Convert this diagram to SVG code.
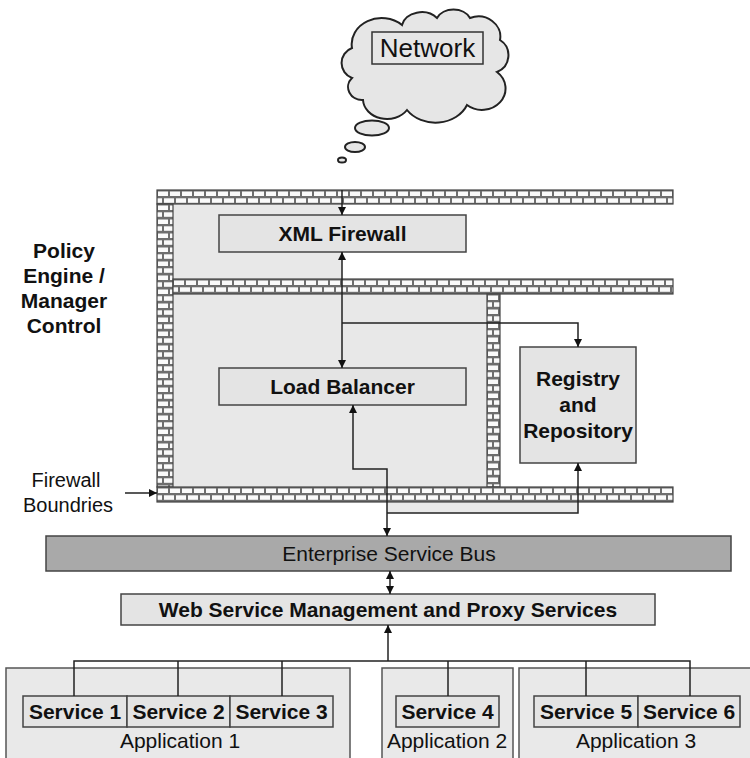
<svg xmlns="http://www.w3.org/2000/svg" width="750" height="758" viewBox="0 0 750 758">
<style>
text{font-family:"Liberation Sans",Arial,sans-serif;fill:#111;text-anchor:middle}
.b{font-weight:bold;font-size:21px}
.r{font-size:21px}
.box{fill:#e4e4e4;stroke:#444;stroke-width:1.5}
.app{fill:#e9e9e9;stroke:#555;stroke-width:1.5}
.wall{fill:url(#brick);stroke:#444;stroke-width:1.2}
.ln{fill:none;stroke:#222;stroke-width:1.5}
.cl{fill:#e6e6e6;stroke:#222;stroke-width:2}
</style>
<defs>
<pattern id="brick" width="12" height="14" patternUnits="userSpaceOnUse">
<rect width="12" height="14" fill="#6e6e6e"/>
<rect x="1" y="1.5" width="10" height="4.5" fill="#fafafa"/>
<rect x="-5" y="8.3" width="10" height="4.5" fill="#fafafa"/>
<rect x="7" y="8.3" width="10" height="4.5" fill="#fafafa"/>
</pattern>
<marker id="ah" viewBox="0 0 10 10" refX="10" refY="5" markerWidth="8" markerHeight="8" markerUnits="userSpaceOnUse" orient="auto-start-reverse">
<path d="M0,0 L10,5 L0,10 Z" fill="#111"/>
</marker>
</defs>
<rect width="750" height="758" fill="#fff"/>

<g id="cloud">
<path class="cl" d="M352,78 A16,16 0 0,1 352,48 A30,26 0 0,1 402,25 A20,16 0 0,1 437,18 A18,14 0 0,1 470,18 A22,20 0 0,1 500,40 A18,18 0 0,1 497,72 A22,20 0 0,1 467,105 A34,28 0 0,1 407,110 A24,20 0 0,1 363,100 A14,13 0 0,1 352,78 Z"/>
<ellipse class="cl" cx="372" cy="128" rx="17" ry="7.5"/>
<ellipse class="cl" cx="355" cy="147" rx="10" ry="5"/>
<ellipse class="cl" cx="342" cy="160" rx="4" ry="2.5"/>
<rect x="372" y="32" width="111" height="32" fill="#e6e6e6" stroke="#333" stroke-width="1.5"/>
<text x="427.5" y="57" style="font-size:26px">Network</text>
</g>

<g id="zones">
<rect x="173" y="204" width="169" height="75" fill="#e8e8e8"/>
<rect x="173" y="294" width="314" height="193" fill="#e8e8e8"/>
<rect x="387" y="502" width="191" height="11" fill="#e8e8e8"/>
</g>

<g id="walls">
<g transform="translate(157,190)"><rect class="wall" width="516" height="14"/></g>
<g transform="translate(157,204)"><rect class="wall" width="16" height="283"/></g>
<g transform="translate(173,279)"><rect class="wall" width="500" height="15"/></g>
<g transform="translate(487,294)"><rect class="wall" width="13" height="193"/></g>
<g transform="translate(157,487)"><rect class="wall" width="516" height="15"/></g>
</g>

<g id="xml-firewall">
<rect class="box" x="219" y="215" width="247" height="37"/>
<text class="b" x="342.5" y="241">XML Firewall</text>
</g>

<g id="load-balancer">
<rect class="box" x="219" y="368" width="247" height="37"/>
<text class="b" x="342.5" y="394">Load Balancer</text>
</g>

<g id="registry">
<rect class="box" x="520" y="347" width="116" height="116"/>
<text class="b" x="578" y="386">Registry</text>
<text class="b" x="578" y="412">and</text>
<text class="b" x="578" y="438">Repository</text>
</g>

<g id="policy-label">
<text class="b" x="64" y="258">Policy</text>
<text class="b" x="64" y="283">Engine /</text>
<text class="b" x="64" y="308">Manager</text>
<text class="b" x="64" y="333">Control</text>
</g>

<g id="firewall-label">
<text x="66" y="487" style="font-size:20px">Firewall</text>
<text x="68" y="512" style="font-size:20px">Boundries</text>
</g>

<g id="esb">
<rect x="46" y="536" width="685" height="35" fill="#a9a9a9" stroke="#444" stroke-width="1.5"/>
<text class="r" x="389" y="561">Enterprise Service Bus</text>
</g>

<g id="wsm">
<rect class="box" x="121" y="594" width="534" height="31"/>
<text class="b" x="388" y="617">Web Service Management and Proxy Services</text>
</g>

<g id="application-1">
<rect class="app" x="6" y="668" width="344" height="92"/>
<text class="r" x="180" y="748">Application 1</text>
</g>
<g id="application-2">
<rect class="app" x="382" y="668" width="131" height="92"/>
<text class="r" x="447" y="748">Application 2</text>
</g>
<g id="application-3">
<rect class="app" x="519" y="668" width="233" height="92"/>
<text class="r" x="636" y="748">Application 3</text>
</g>

<g id="service-1"><rect class="box" x="23" y="696" width="104" height="31"/><text class="b" x="75" y="719">Service 1</text></g>
<g id="service-2"><rect class="box" x="127" y="696" width="103" height="31"/><text class="b" x="178.5" y="719">Service 2</text></g>
<g id="service-3"><rect class="box" x="230" y="696" width="103" height="31"/><text class="b" x="281.5" y="719">Service 3</text></g>
<g id="service-4"><rect class="box" x="396" y="696" width="103" height="31"/><text class="b" x="447.5" y="719">Service 4</text></g>
<g id="service-5"><rect class="box" x="534" y="696" width="104" height="31"/><text class="b" x="586" y="719">Service 5</text></g>
<g id="service-6"><rect class="box" x="638" y="696" width="102" height="31"/><text class="b" x="689" y="719">Service 6</text></g>

<g id="connectors">
<path class="ln" d="M342,190 V215" marker-end="url(#ah)"/>
<path class="ln" d="M342,252 V368" marker-start="url(#ah)" marker-end="url(#ah)"/>
<path class="ln" d="M342,323 H578 V347" marker-end="url(#ah)"/>
<path class="ln" d="M353,405 V469 H387 V536" marker-start="url(#ah)" marker-end="url(#ah)"/>
<path class="ln" d="M578,463 V513 H387" marker-start="url(#ah)"/>
<path class="ln" d="M390,571 V594" marker-start="url(#ah)" marker-end="url(#ah)"/>
<path class="ln" d="M388,661 V625" marker-end="url(#ah)"/>
<path class="ln" d="M74,696 V661 H690 V696 M178,661 V696 M282,661 V696 M448,661 V696 M586,661 V696"/>
<path class="ln" d="M125,493 H157" marker-end="url(#ah)"/>
</g>
</svg>
